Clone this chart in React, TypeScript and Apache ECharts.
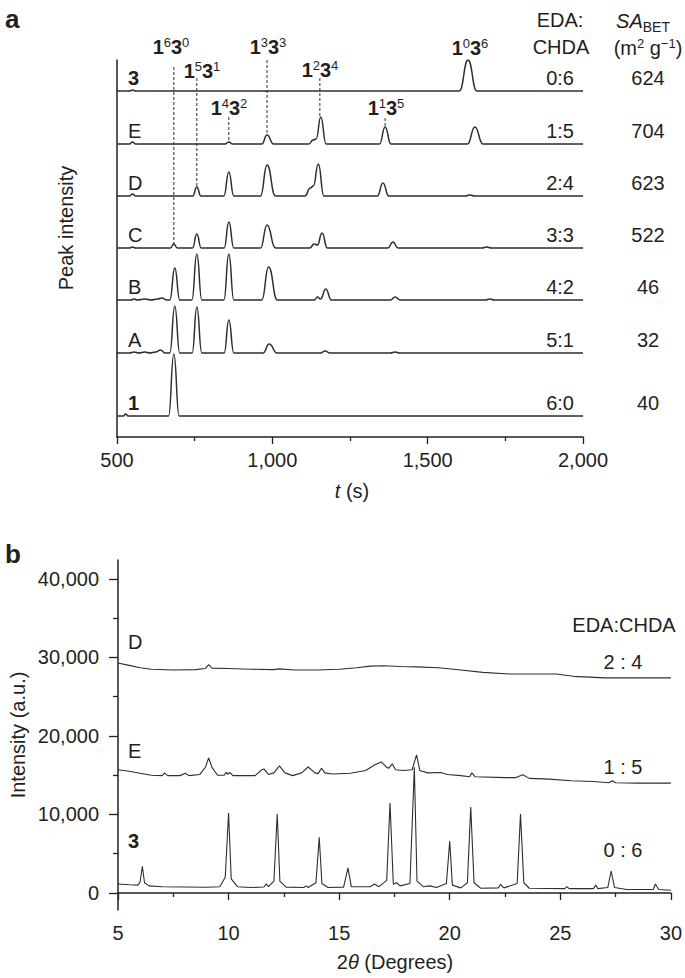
import React, { useEffect, useRef } from 'react';
import * as echarts from 'echarts';

const FONT = '"Liberation Sans", Arial, Helvetica, sans-serif';
const INK = '#231f20';
const LINE = '#2e2e2e';

// ---------------- Panel a : HPLC traces ----------------
const traceNames = ['1', 'A', 'B', 'C', 'D', 'E', '3'];
const traceBold = [true, false, false, false, false, false, true];
const ratiosA = ['6:0', '5:1', '4:2', '3:3', '2:4', '1:5', '0:6'];
const saBet = ['40', '32', '46', '522', '623', '704', '624'];
const traceOffsets = [21, 84, 137, 189, 241, 293, 346];

const trace1 = [[500, 0], [520, 0], [528, 2], [536, 0], [666, 0], [683, 62], [700, 0], [2000, 0]];
const traceA = [[500, 0], [540, 0], [555, 1], [570, 0], [590, 1], [605, 0], [625, 1], [640, 3], [655, 0], [670, 0], [686, 47], [702, 0], [742, 0], [757, 46], [773, 0], [845, 0], [860, 33], [876, 0], [970, 0], [990, 9], [1015, 0], [1155, 0], [1170, 2], [1185, 0], [1380, 0], [1395, 1], [1410, 0], [2000, 0]];
const traceB = [[500, 0], [545, 0], [555, 1], [565, 0], [590, 1], [610, 0], [630, 1], [645, 2], [660, 0], [670, 0], [686, 32], [702, 0], [741, 0], [757, 46], [773, 0], [844, 0], [860, 46], [876, 0], [966, 0], [988, 33], [1016, 0], [1135, 0], [1145, 3], [1155, 1], [1172, 11], [1190, 0], [1380, 0], [1395, 3], [1412, 0], [1685, 0], [1700, 1], [1715, 0], [2000, 0]];
const traceC = [[500, 0], [540, 0], [550, 1], [560, 0], [672, 0], [683, 4], [694, 0], [743, 0], [757, 14], [771, 0], [845, 0], [860, 26], [876, 0], [962, 0], [983, 23], [1010, 0], [1120, 0], [1135, 4], [1145, 3], [1160, 15], [1177, 0], [1372, 0], [1388, 6], [1405, 0], [1675, 0], [1690, 1], [1705, 0], [2000, 0]];
const traceD = [[500, 0], [540, 0], [550, 2], [560, 0], [744, 0], [757, 9], [770, 0], [844, 0], [860, 24], [876, 0], [962, 0], [983, 31], [1010, 0], [1105, 0], [1122, 8], [1132, 10], [1148, 32], [1166, 0], [1338, 0], [1356, 13], [1375, 0], [1620, 0], [1636, 1], [1652, 0], [2000, 0]];
const traceE = [[500, 0], [540, 0], [550, 2], [560, 0], [848, 0], [860, 2], [872, 0], [966, 0], [983, 9], [1004, 0], [1118, 0], [1131, 4], [1141, 5], [1156, 27], [1173, 0], [1345, 0], [1363, 17], [1382, 0], [1628, 0], [1652, 17], [1678, 0], [2000, 0]];
const trace3 = [[500, 0], [540, 0], [550, 1], [560, 0], [1602, 0], [1630, 31], [1658, 0], [2000, 0]];
const tracesA = [trace1, traceA, traceB, traceC, traceD, traceE, trace3];

// peak assignment labels (1^m 3^n) and dashed guide lines
const peakLabelM = ['6', '5', '4', '3', '2', '1', '0'];
const peakLabelN = ['0', '1', '2', '3', '4', '5', '6'];
const dashT = [683, 757, 860, 983, 1153, 1363];
const dashTop = [370, 359, 320, 382, 359, 319];
const dashToTrace = [3, 4, 5, 5, 5, 5];

// ---------------- Panel b : PXRD ----------------
const xrd3 = [[5, 1150], [5.5, 1050], [5.9, 1000], [6.0, 1400], [6.1, 3400], [6.2, 1300], [6.4, 900], [7, 800], [8, 760], [9, 720], [9.6, 800], [9.85, 2000], [10.0, 10200], [10.12, 1800], [10.4, 800], [11, 700], [11.6, 760], [11.7, 1150], [11.8, 800], [12.05, 1500], [12.2, 10050], [12.32, 1500], [12.6, 750], [13.4, 700], [13.5, 900], [13.6, 700], [13.95, 1300], [14.1, 7100], [14.22, 1200], [14.5, 700], [15.2, 750], [15.4, 3200], [15.55, 800], [16.4, 800], [16.6, 1150], [16.8, 800], [17.15, 1600], [17.3, 11450], [17.45, 1100], [17.6, 1300], [17.75, 900], [18.2, 1200], [18.4, 16000], [18.52, 1500], [18.8, 800], [19.1, 900], [19.4, 700], [19.85, 1200], [20.0, 6600], [20.12, 1000], [20.5, 650], [20.8, 1300], [20.95, 10950], [21.1, 1300], [21.4, 600], [22.2, 650], [22.3, 1100], [22.45, 650], [23.05, 1200], [23.2, 10050], [23.35, 1300], [23.6, 600], [25.2, 550], [25.3, 800], [25.4, 550], [26.5, 550], [26.6, 1000], [26.7, 550], [27.15, 700], [27.3, 2800], [27.45, 700], [28, 450], [29.2, 450], [29.3, 1150], [29.45, 450], [30, 350]];
const xrdE = [[5, 15700], [5.5, 15500], [6, 15250], [6.5, 15000], [7.0, 14950], [7.1, 15300], [7.25, 14950], [7.8, 14950], [8.05, 15250], [8.2, 14950], [8.7, 15100], [8.95, 16000], [9.1, 17200], [9.25, 16000], [9.5, 15000], [9.8, 15000], [9.9, 15400], [9.95, 15100], [10.05, 15350], [10.2, 14950], [11.2, 14950], [11.5, 15700], [11.6, 15800], [11.8, 15100], [12.05, 15300], [12.3, 16200], [12.55, 15300], [12.9, 14950], [13.3, 15300], [13.6, 16050], [13.9, 15300], [14.05, 15200], [14.2, 15900], [14.35, 15300], [14.7, 15150], [15.5, 15250], [16.2, 15600], [16.6, 16300], [16.9, 16700], [17.15, 16000], [17.25, 15900], [17.4, 16450], [17.55, 15700], [17.9, 15600], [18.3, 15700], [18.5, 17600], [18.65, 15600], [19.0, 15300], [19.6, 15350], [19.9, 15100], [20.5, 14950], [20.9, 14800], [21.0, 15300], [21.15, 14800], [22.5, 14700], [23.0, 14700], [23.3, 15050], [23.6, 14600], [24.5, 14500], [25.5, 14300], [26.5, 14200], [27.2, 14050], [27.35, 14300], [27.5, 14050], [28.5, 14000], [30, 14000]];
const xrdD = [[5, 29300], [5.5, 29000], [6, 28700], [6.5, 28500], [7.5, 28400], [8.5, 28450], [8.95, 28600], [9.1, 29100], [9.25, 28650], [10, 28600], [11, 28500], [12, 28450], [12.3, 28550], [13, 28400], [14, 28400], [15, 28500], [15.8, 28700], [16.4, 28900], [17.0, 28950], [17.8, 28850], [18.5, 28800], [19.5, 28700], [20.5, 28400], [21.5, 28100], [22.7, 27900], [24.8, 27900], [25.6, 27600], [27.0, 27400], [28.5, 27400], [30, 27400]];
const xrdNames = ['3', 'E', 'D'];
const xrdRatios = ['0 : 6', '1 : 5', '2 : 4'];
const xrdSeries = [xrd3, xrdE, xrdD];
const yTicksB = [0, 10000, 20000, 30000, 40000];
const yMinorTicksB = [5000, 15000, 25000, 35000];

// ---------------- layout ----------------
const GA = { left: 117, top: 60, width: 466, height: 377 };
const GB = { left: 118, top: 560, width: 555, height: 350 };
const fmtComma = (v: number) => String(v).replace(/\B(?=(\d{3})+(?!\d))/g, ',');

const txt = (x: number, y: number, text: string, extra: any = {}, styleExtra: any = {}) => ({
  type: 'text', x, y, silent: true, ...extra,
  style: { text, fill: INK, font: `20px ${FONT}`, fontFamily: FONT, fontSize: 20, align: 'center', verticalAlign: 'middle', ...styleExtra },
});

const supRich = {
  b: { fontSize: 20, fontWeight: 'bold', fontFamily: FONT, lineHeight: 22, fill: INK, color: INK },
  s: { fontSize: 13, fontFamily: FONT, lineHeight: 13, verticalAlign: 'top', fill: INK, color: INK },
};

function buildOption() {
  const series: any[] = [];
  tracesA.forEach((tr, i) => {
    series.push({
      type: 'line', xAxisIndex: 0, yAxisIndex: 0, silent: true,
      data: tr.map(([t, v]) => [t, v + traceOffsets[i]]),
      smooth: 0.5, smoothMonotone: 'x', showSymbol: false, symbol: 'none',
      lineStyle: { color: LINE, width: 1.5 },
    });
  });
  dashT.forEach((t, i) => {
    const tr = tracesA[dashToTrace[i]];
    let peak = 0;
    tr.forEach(([x, v]) => { if (Math.abs(x - t) <= 10 && v > peak) peak = v; });
    series.push({
      type: 'line', xAxisIndex: 0, yAxisIndex: 0, silent: true, showSymbol: false, symbol: 'none',
      data: [[t, dashTop[i]], [t, peak + traceOffsets[dashToTrace[i]]]],
      lineStyle: { color: LINE, width: 1, type: [3, 2] },
    });
  });
  xrdSeries.forEach((d) => {
    series.push({
      type: 'line', xAxisIndex: 1, yAxisIndex: 1, silent: true, showSymbol: false, symbol: 'none',
      data: d, lineStyle: { color: LINE, width: 1.1 },
    });
  });

  const py = (v: number) => GA.top + GA.height - v; // 1 unit = 1 px in panel a
  const graphics: any[] = [];
  graphics.push(txt(5, 19, 'a', {}, { font: `bold 26px ${FONT}`, fontWeight: 'bold', fontSize: 26, align: 'left' }));
  graphics.push(txt(5, 554, 'b', {}, { font: `bold 26px ${FONT}`, fontWeight: 'bold', fontSize: 26, align: 'left' }));
  // column headers
  graphics.push(txt(560, 20, 'EDA:'));
  graphics.push(txt(561, 47, 'CHDA'));
  graphics.push({
    type: 'text', x: 643, y: 21, silent: true,
    style: {
      text: '{i|SA}{sub|BET}', align: 'center', verticalAlign: 'middle',
      rich: {
        i: { fontSize: 20, fontStyle: 'italic', fontFamily: FONT, lineHeight: 26, fill: INK },
        sub: { fontSize: 14, fontFamily: FONT, lineHeight: 14, verticalAlign: 'bottom', fill: INK },
      },
    },
  });
  graphics.push({
    type: 'text', x: 648, y: 48, silent: true,
    style: {
      text: '{n|(m}{s|2}{n| g}{s|−1}{n|)}', align: 'center', verticalAlign: 'middle',
      rich: {
        n: { fontSize: 20, fontFamily: FONT, lineHeight: 22, fill: INK },
        s: { fontSize: 13, fontFamily: FONT, lineHeight: 13, verticalAlign: 'top', fill: INK },
      },
    },
  });
  traceNames.forEach((n, i) => {
    const y = py(traceOffsets[i]) - 13;
    graphics.push(txt(128, y, n, {}, traceBold[i]
      ? { align: 'left', font: `bold 20px ${FONT}`, fontWeight: 'bold' }
      : { align: 'left' }));
    graphics.push(txt(574, y, ratiosA[i], {}, { align: 'right' }));
    graphics.push(txt(648, y, saBet[i]));
  });
  // peak assignment labels
  const peakPos = [[171, 47], [202, 71], [229, 108], [268, 47], [320, 70], [386, 108], [470, 48]];
  peakLabelM.forEach((m, i) => {
    graphics.push({
      type: 'text', x: peakPos[i][0], y: peakPos[i][1], silent: true,
      style: { text: `{b|1}{s|${m}}{b|3}{s|${peakLabelN[i]}}`, align: 'center', verticalAlign: 'middle', rich: supRich },
    });
  });
  // axis titles
  graphics.push({
    type: 'text', x: 352, y: 491, silent: true,
    style: {
      text: '{i|t}{n| (s)}', align: 'center', verticalAlign: 'middle',
      rich: {
        i: { fontSize: 20, fontStyle: 'italic', fontFamily: FONT, fill: INK },
        n: { fontSize: 20, fontFamily: FONT, fill: INK },
      },
    },
  });
  graphics.push(txt(66, 228, 'Peak intensity', { rotation: Math.PI / 2 }));
  graphics.push(txt(18, 735, 'Intensity (a.u.)', { rotation: Math.PI / 2 }));
  graphics.push({
    type: 'text', x: 395, y: 962, silent: true,
    style: {
      text: '{n|2}{i|θ}{n| (Degrees)}', align: 'center', verticalAlign: 'middle',
      rich: {
        i: { fontSize: 20, fontStyle: 'italic', fontFamily: FONT, fill: INK },
        n: { fontSize: 20, fontFamily: FONT, fill: INK },
      },
    },
  });
  // panel b labels
  const xrdLabelY = [841, 751, 642];
  const xrdRatioY = [850, 767, 662];
  xrdNames.forEach((n, i) => {
    graphics.push(txt(128, xrdLabelY[i], n, {}, n === '3'
      ? { align: 'left', font: `bold 20px ${FONT}`, fontWeight: 'bold' }
      : { align: 'left' }));
    graphics.push(txt(623, xrdRatioY[i], xrdRatios[i]));
  });
  graphics.push(txt(624, 625, 'EDA:CHDA'));

  const axisText = { fontSize: 20, color: INK, fontFamily: FONT };
  const axLine = { show: true, lineStyle: { color: INK, width: 1.5 } };
  return {
    animation: false,
    backgroundColor: '#ffffff',
    textStyle: { fontFamily: FONT },
    grid: [
      { left: GA.left, top: GA.top, width: GA.width, height: GA.height },
      { left: GB.left, top: GB.top, width: GB.width, height: GB.height },
    ],
    xAxis: [
      {
        type: 'value', gridIndex: 0, min: 500, max: 2000, interval: 500,
        axisLine: axLine,
        axisTick: { show: true, length: 7, lineStyle: { color: INK, width: 1.3 } },
        minorTick: { show: true, splitNumber: 2, length: 4, lineStyle: { color: INK, width: 1.3 } },
        axisLabel: { ...axisText, margin: 13, formatter: (v: number) => fmtComma(v) },
        splitLine: { show: false }, minorSplitLine: { show: false },
      },
      {
        type: 'value', gridIndex: 1, min: 5, max: 30, interval: 5,
        axisLine: axLine,
        axisTick: { show: true, length: 7, lineStyle: { color: INK, width: 1.3 } },
        minorTick: { show: true, splitNumber: 2, length: 4, lineStyle: { color: INK, width: 1.3 } },
        axisLabel: { ...axisText, margin: 13 },
        splitLine: { show: false }, minorSplitLine: { show: false },
      },
    ],
    yAxis: [
      {
        type: 'value', gridIndex: 0, min: 0, max: GA.height,
        axisLine: axLine, axisTick: { show: false }, axisLabel: { show: false }, splitLine: { show: false },
      },
      {
        type: 'value', gridIndex: 1, min: -2170, max: 42420, position: 'left',
        axisLine: axLine,
        axisTick: { show: true, length: 9, customValues: yTicksB, lineStyle: { color: INK, width: 1.3 } },
        axisLabel: { ...axisText, margin: 19, customValues: yTicksB, formatter: (v: number) => fmtComma(v) },
        splitLine: { show: false },
      },
      {
        type: 'value', gridIndex: 1, min: -2170, max: 42420, position: 'left', offset: 0,
        axisLine: { show: false },
        axisTick: { show: true, length: 5, customValues: yMinorTicksB, lineStyle: { color: INK, width: 1.3 } },
        axisLabel: { show: false }, splitLine: { show: false },
      },
    ],
    series,
    graphic: graphics,
  };
}

export default function App() {
  const ref = useRef<HTMLDivElement>(null);
  useEffect(() => {
    if (!ref.current) return;
    const chart = echarts.init(ref.current, undefined, { renderer: 'svg', width: 685, height: 978 });
    chart.setOption(buildOption() as any);
    return () => chart.dispose();
  }, []);
  return (
    <div
      ref={ref}
      style={{ position: 'fixed', left: 0, top: 0, width: 685, height: 978, background: '#fff' }}
    />
  );
}
